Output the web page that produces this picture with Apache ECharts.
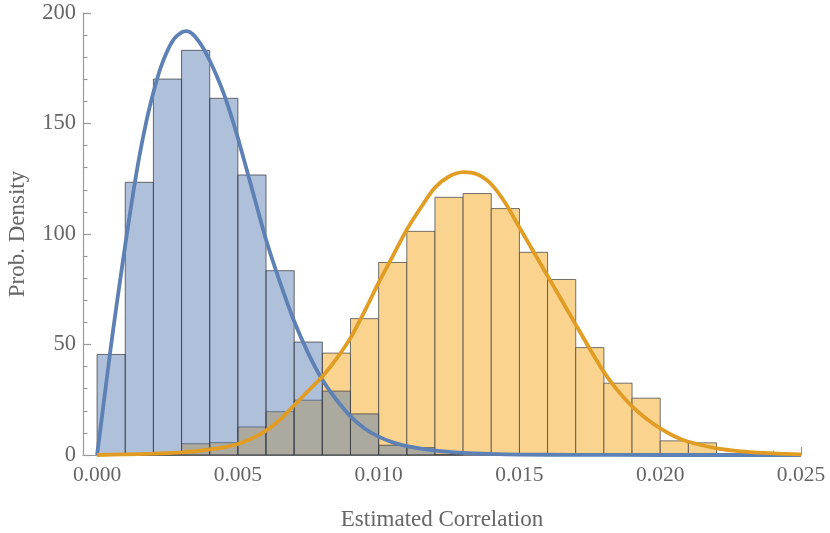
<!DOCTYPE html>
<html>
<head>
<meta charset="utf-8">
<script src="https://cdn.jsdelivr.net/npm/echarts@6/dist/echarts.min.js"></script>
<style>html,body{margin:0;padding:0;background:#fff}#c{width:830px;height:533px}</style>
</head>
<body>
<div id="c"></div>
<script>
// Histogram bin edges (bin width 0.001)
var binEdges = [0.000,0.001,0.002,0.003,0.004,0.005,0.006,0.007,0.008,0.009,0.010,0.011,0.012,0.013,0.014,0.015,0.016,0.017,0.018,0.019,0.020,0.021,0.022,0.023,0.024,0.025];
// Bar heights (probability density) per bin
var blueBars   = [45.5,123.4,170.1,183.1,161.4,126.7,83.4,51.1,28.9,18.6,4.4,3.3,0.3,0,0,0,0,0,0,0,0,0,0,0,0];
var orangeBars = [0,0.2,0.4,5.1,5.6,12.7,19.6,24.8,46.1,61.7,87.1,101.2,116.6,118.3,111.5,91.7,79.4,48.6,32.5,25.7,6.4,5.5,0,0,0];
// Fitted density curves (x, density)
var blueCurveX = [0,0.00025,0.0005,0.00075,0.001,0.00125,0.0015,0.00175,0.002,0.00225,0.0025,0.00275,0.003,0.00315,0.0033,0.0035,0.00375,0.004,0.00425,0.0045,0.00475,0.005,0.0055,0.006,0.0065,0.007,0.0075,0.008,0.0085,0.009,0.0095,0.010,0.0105,0.011,0.012,0.013,0.014,0.015,0.017,0.020,0.025];
var blueCurveY = [0,25,50,73,95,116,135,151,164,175,183,188.5,191.2,191.8,191.3,189,184.5,178.5,171.5,163.5,154,143.5,120.5,97.5,78,60.5,46,34,25,17.5,12,8.3,5.7,4,2,1,0.5,0.2,0.05,0,0];
var orangeCurveX = [0,0.001,0.002,0.003,0.0035,0.004,0.0045,0.005,0.0055,0.006,0.0065,0.007,0.0075,0.008,0.0085,0.009,0.0095,0.010,0.0105,0.011,0.0115,0.012,0.0125,0.013,0.0135,0.014,0.0145,0.015,0.0155,0.016,0.0165,0.017,0.0175,0.018,0.0185,0.019,0.0195,0.020,0.0205,0.021,0.022,0.023,0.024,0.025];
var orangeCurveY = [0,0.3,0.6,1.2,1.7,2.5,3.5,5,7.5,11,16,22.5,29,35.5,43.5,53,65,78,90,102,112,121,126,128,127,122.5,114,103,92,81,70,59,48,37.5,29,22,16.5,12,8.5,6,3,1.5,0.7,0.3];
// Axis tick positions
var xMajorTicks = [0.000,0.005,0.010,0.015,0.020,0.025];
var xMinorTicks = [0.001,0.002,0.003,0.004,0.006,0.007,0.008,0.009,0.011,0.012,0.013,0.014,0.016,0.017,0.018,0.019,0.021,0.022,0.023,0.024];

function barData(h){
  var out=[];
  for(var i=0;i<h.length;i++){ out.push([binEdges[i],binEdges[i+1],h[i]]); }
  return out;
}
function pairs(xs,ys){ return xs.map(function(x,i){return [x,ys[i]];}); }

function renderBar(fill, stroke){
  return function(params, api){
    var p0 = api.coord([api.value(0), 0]);
    var p1 = api.coord([api.value(1), api.value(2)]);
    var h = p0[1]-p1[1];
    if (h <= 0.01) return null;
    return {
      type:'rect',
      shape:{x:p0[0], y:p1[1], width:p1[0]-p0[0], height:h},
      style:{fill:fill, stroke:stroke, lineWidth:1}
    };
  };
}

var font = 'Liberation Serif';
var axisColor = '#999999';
var labelColor = '#666666';

var chart = echarts.init(document.getElementById('c'));
chart.setOption({
  animation:false,
  grid:{left:83, right:29, top:13, bottom:78, containLabel:false, outerBoundsMode:'none'},
  xAxis:[{
    type:'value', min:-0.0005, max:0.025, position:'bottom',
    axisLine:{show:true, onZero:false, lineStyle:{color:axisColor, width:1.2}},
    axisTick:{show:true, inside:true, length:8, customValues:xMajorTicks, lineStyle:{color:axisColor, width:1.2}},
    axisLabel:{show:true, customValues:xMajorTicks, margin:9, color:labelColor, fontFamily:font, fontSize:21.5,
      formatter:function(v){return v.toFixed(3);}},
    splitLine:{show:false},
    name:'Estimated Correlation', nameLocation:'middle', nameGap:53,
    nameTextStyle:{color:labelColor, fontFamily:font, fontSize:23}
  },{
    type:'value', min:-0.0005, max:0.025, position:'bottom', offset:0,
    axisLine:{show:false, onZero:false},
    axisTick:{show:true, inside:true, length:4.5, customValues:xMinorTicks, lineStyle:{color:axisColor, width:1.2}},
    axisLabel:{show:false},
    splitLine:{show:false}
  }],
  yAxis:{
    type:'value', min:0, max:200, interval:50,
    axisLine:{show:true, onZero:false, lineStyle:{color:axisColor, width:1.2}},
    axisTick:{show:true, inside:true, length:8, lineStyle:{color:axisColor, width:1.2}},
    minorTick:{show:true, splitNumber:5, length:4.5, lineStyle:{color:axisColor, width:1.2}},
    axisLabel:{margin:7, color:labelColor, fontFamily:font, fontSize:22.5},
    splitLine:{show:false},
    name:'Prob. Density', nameLocation:'middle', nameGap:54,
    nameTextStyle:{color:labelColor, fontFamily:font, fontSize:23}
  },
  series:[
    {type:'custom', xAxisIndex:0, renderItem:renderBar('#FAD48F','rgba(70,70,70,0.75)'),
      encode:{x:[0,1], y:2}, data:barData(orangeBars), z:1},
    {type:'custom', xAxisIndex:0, renderItem:renderBar('rgba(86,122,178,0.47)','rgba(60,60,60,0.75)'),
      encode:{x:[0,1], y:2}, data:barData(blueBars), z:2},
    {type:'line', xAxisIndex:0, data:pairs(blueCurveX,blueCurveY), smooth:0.25, symbol:'none',
      lineStyle:{color:'#5E81B5', width:3.8}, z:3},
    {type:'line', xAxisIndex:0, data:pairs(orangeCurveX,orangeCurveY), smooth:0.25, symbol:'none',
      lineStyle:{color:'#E19C24', width:3.8}, z:4}
  ]
});
</script>
</body>
</html>
